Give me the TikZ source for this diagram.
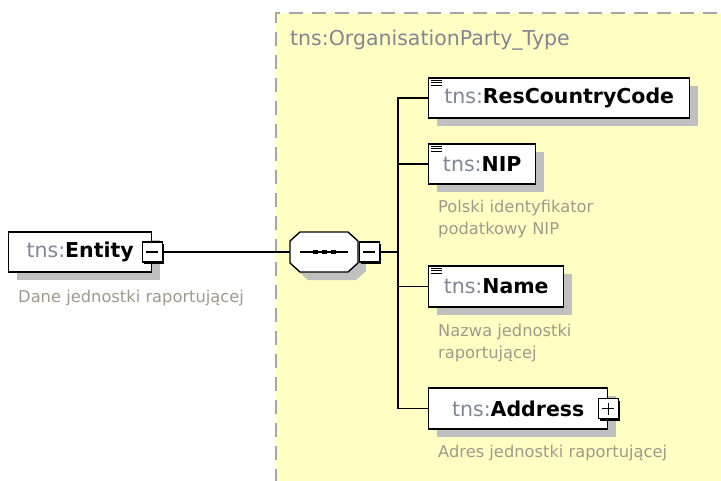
\documentclass[tikz,border=0pt]{standalone}
\usepackage{fontspec}
\setmainfont{DejaVu Sans}
\usetikzlibrary{shadows}

\definecolor{typefill}{RGB}{255,255,196}
\definecolor{typeline}{RGB}{165,165,165}
\definecolor{nsgray}{RGB}{128,134,148}
\definecolor{docgray}{RGB}{160,154,140}
\definecolor{shadegray}{RGB}{192,192,192}

\newcommand{\tnsname}[1]{{\color{nsgray}tns:}\textbf{#1}}

\begin{document}
\begin{tikzpicture}[x=1pt,y=-1pt,
  elem/.style={draw, line width=1.4pt, fill=white, anchor=west, inner sep=0pt,
    minimum height=40pt, font=\fontsize{20.5}{22}\selectfont,
    drop shadow={shadow xshift=8pt, shadow yshift=-8pt, fill=shadegray, opacity=1}},
  expbox/.style={draw, line width=1.3pt, fill=white, minimum size=20pt, inner sep=0pt,
    drop shadow={shadow xshift=2pt, shadow yshift=-2pt, fill=black, opacity=1}},
  doc/.style={anchor=north west, inner sep=0pt, align=left, text=docgray,
    font=\fontsize{16.3}{22}\selectfont},
  conn/.style={line width=1.5pt}]
\useasboundingbox (0,0) rectangle (721,480);
\clip (0,0) rectangle (721,480);

\fill[typefill] (276,13) rectangle (740,500);
\draw[typeline, line width=1.6pt, dash pattern=on 14pt off 9pt] (740,13) -- (276,13) -- (276,500);
\node[anchor=west, inner sep=0pt, text=nsgray, font=\fontsize{20.5}{22}\selectfont] (title) at (290,40) {tns:OrganisationParty\_Type};

\node[elem, minimum width=143pt] (entity) at (8,252) {\tnsname{Entity}\hspace{7pt}};
\node[expbox] (entexp) at (entity.east) {};
\draw[line width=1.3pt] ([xshift=-6pt]entexp.center) -- ([xshift=6pt]entexp.center);
\node[doc] (entdoc) at (18,290) {Dane jednostki raportującej};

\node[minimum width=68pt, minimum height=40pt, inner sep=0pt] (seq) at (324,252) {};
\begin{scope}[shift={(290,232)}]
\fill[shadegray, shift={(8,8)}] (0,9) -- (10,0) -- (58,0) -- (68,9) -- (68,31) -- (58,40) -- (10,40) -- (0,31) -- cycle;
\draw[line width=1.4pt, fill=white] (0,9) -- (10,0) -- (58,0) -- (68,9) -- (68,31) -- (58,40) -- (10,40) -- (0,31) -- cycle;
\end{scope}
\draw[line width=1.3pt] ([xshift=-24pt]seq.center) -- ([xshift=24pt]seq.center);
\foreach \dx in {-9,0,9}
  \fill ([shift={(\dx-2.5,-2)}]seq.center) rectangle ++(5,4);
\node[expbox] (seqexp) at ([xshift=11pt]seq.east) {};
\draw[line width=1.3pt] ([xshift=-6pt]seqexp.center) -- ([xshift=6pt]seqexp.center);

\coordinate (bus) at (398,252);

\node[elem, minimum width=261pt] (rcc) at (428,98) {\tnsname{ResCountryCode}};
\node[elem, minimum width=107pt] (nip) at (428,164) {\tnsname{NIP}};
\node[doc] (nipdoc) at (438,200) {Polski identyfikator\\podatkowy NIP};
\node[elem, minimum width=135pt, minimum height=41pt] (name) at (428,286.5) {\tnsname{Name}};
\node[doc] (namedoc) at (438,324) {Nazwa jednostki\\raportującej};
\node[elem, minimum width=179pt, minimum height=41pt] (addr) at (428,408.5) {\tnsname{Address}\hspace{7pt}};
\node[expbox] (addrexp) at (addr.east) {};
\draw[line width=1.3pt] ([xshift=-6pt]addrexp.center) -- ([xshift=6pt]addrexp.center);
\draw[line width=1.3pt] ([yshift=-6pt]addrexp.center) -- ([yshift=6pt]addrexp.center);
\node[doc] (addrdoc) at (438,445) {Adres jednostki raportującej};

\foreach \n in {rcc,nip,name}
  \foreach \d in {3,5.5,8}
    \draw[line width=1.2pt] ([shift={(3,\d)}]\n.north west) -- ++(11,0);

\draw[conn] (entexp.east) -- (seq.west);
\draw[conn] (seqexp.east) -- (bus);
\draw[conn] (rcc.west) -| (bus) |- (addr.west);
\draw[conn] (nip.west) -- (nip.west -| bus);
\draw[conn] (name.west) -- (name.west -| bus);

\end{tikzpicture}
\end{document}
